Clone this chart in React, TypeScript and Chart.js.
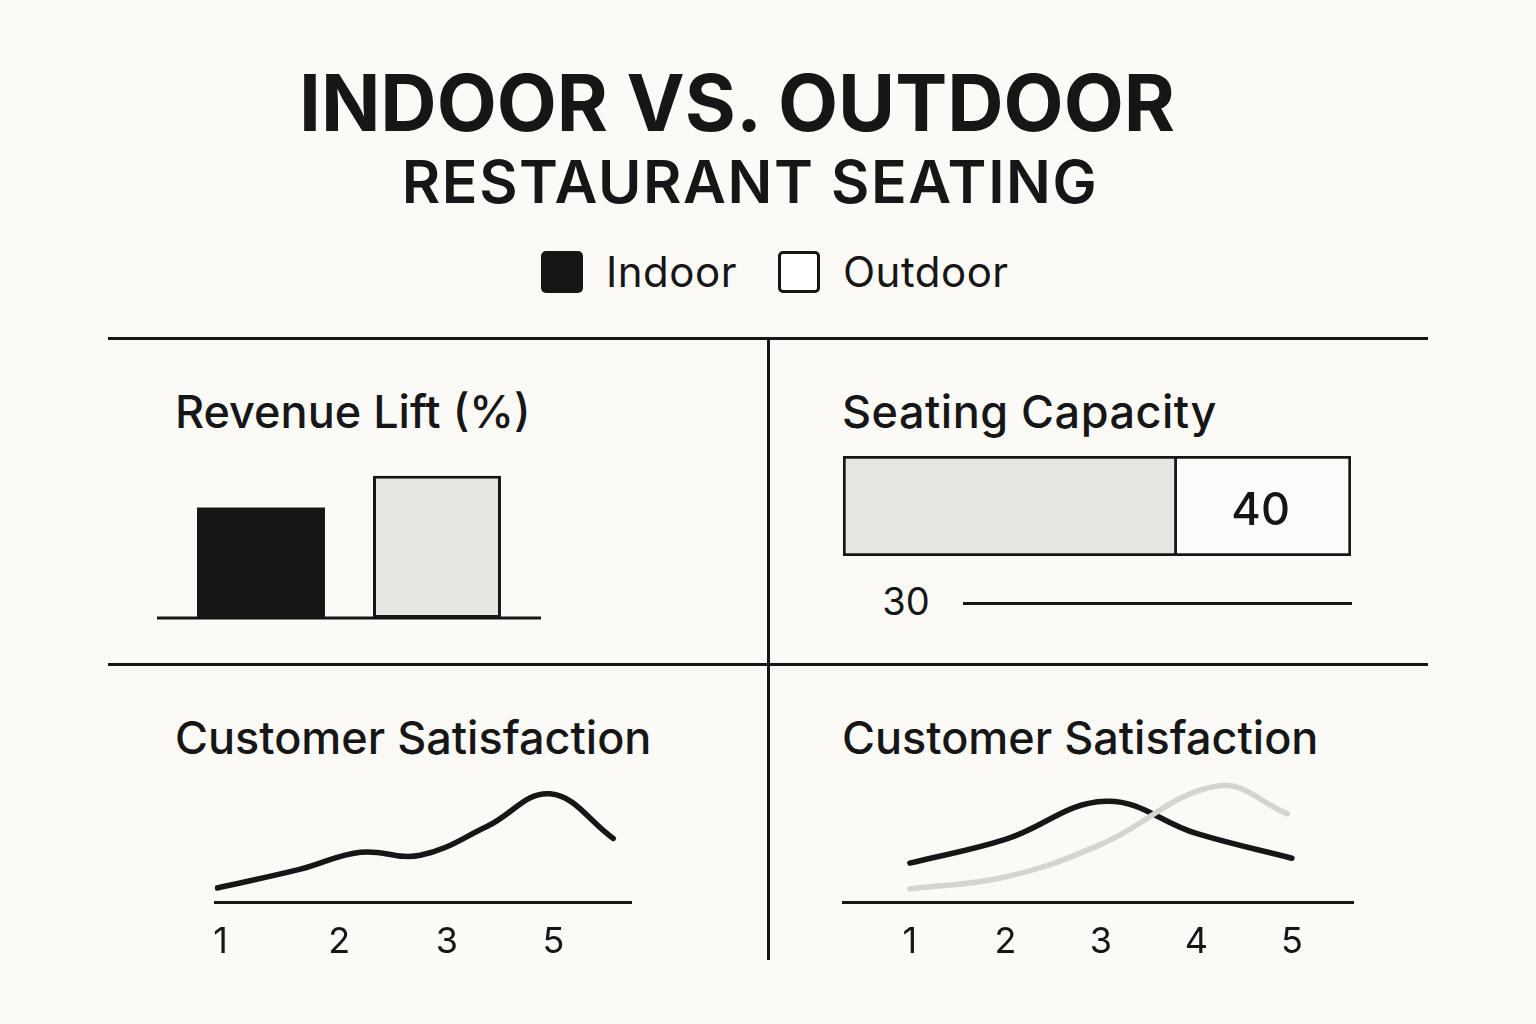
import React, { useEffect, useRef } from 'react';
import { Chart, registerables } from 'chart.js';

Chart.register(...registerables);

const INK = '#161616';
const PAPER = '#fcfaf6';
const LIGHT_FILL = '#e7e5e1';
const LIGHT_LINE = '#d6d4d0';
const FONT = 'Inter, "Noto Sans", sans-serif';

// ---- data ----
const SERIES = ['Indoor', 'Outdoor'];
const REVENUE_LIFT = [21, 27];

const SEATING_SEGMENT_NAMES = ['Outdoor', 'Indoor'];
const SEATING_SEGMENTS = [75, 40];
const SEATING_SEGMENT_LABELS = ['', '40'];
const SEATING_BASE_LABEL = ['30'];

const SAT_LEFT_TICKS = [0, 1.07, 2.04, 3.0];
const SAT_LEFT_TICK_LABELS = ['1', '2', '3', '5'];
const SAT_LEFT_X = [-0.03, 0.72, 1.26, 1.8, 2.4, 2.97, 3.54];
const SAT_LEFT_Y = [0.6, 1.36, 2.04, 1.92, 3.08, 4.4, 2.6];

const SAT_RIGHT_TICKS = [1, 2, 3, 4, 5];
const SAT_RIGHT_TICK_LABELS = ['1', '2', '3', '4', '5'];
const SAT_RIGHT_INDOOR_X = [1, 2, 3.05, 4, 5];
const SAT_RIGHT_INDOOR_Y = [1.6, 2.56, 4.1, 2.8, 1.8];
const SAT_RIGHT_OUTDOOR_X = [1, 2, 3, 4.22, 4.95];
const SAT_RIGHT_OUTDOOR_Y = [0.56, 1.04, 2.36, 4.72, 3.6];

// ---- helpers ----
function useChart(make: () => any) {
  const ref = useRef<HTMLCanvasElement | null>(null);
  useEffect(() => {
    if (!ref.current) return;
    const chart = new Chart(ref.current, make());
    return () => chart.destroy();
  }, []);
  return ref;
}

const baselinePlugin = {
  id: 'baseline',
  afterDatasetsDraw(chart: any) {
    const y = chart.scales.y.getPixelForValue(0);
    const ctx = chart.ctx;
    ctx.save();
    ctx.strokeStyle = INK;
    ctx.lineWidth = 3;
    ctx.beginPath();
    ctx.moveTo(0, y);
    ctx.lineTo(chart.width, y);
    ctx.stroke();
    ctx.restore();
  },
};

const segmentLabelPlugin = {
  id: 'segLabel',
  afterDatasetsDraw(chart: any) {
    const ctx = chart.ctx;
    chart.data.datasets.forEach((ds: any, i: number) => {
      const label = SEATING_SEGMENT_LABELS[i];
      if (!label) return;
      const el = chart.getDatasetMeta(i).data[0];
      ctx.save();
      ctx.fillStyle = INK;
      ctx.font = `500 45px ${FONT}`;
      ctx.textAlign = 'center';
      ctx.textBaseline = 'middle';
      ctx.fillText(label, (el.x + el.base) / 2 - 2, el.y + 5);
      ctx.restore();
    });
  },
};

function RevenueChart() {
  const ref = useChart(() => ({
    type: 'bar',
    data: {
      labels: SERIES,
      datasets: [
        {
          label: 'Revenue Lift (%)',
          data: REVENUE_LIFT,
          backgroundColor: [INK, LIGHT_FILL],
          borderColor: [INK, INK],
          borderWidth: [0, 3],
          borderSkipped: false,
          categoryPercentage: 1,
          barPercentage: 0.727,
        },
      ],
    },
    options: {
      responsive: false,
      animation: false,
      layout: { padding: { left: 16, right: 16, top: 0, bottom: 2 } },
      plugins: { legend: { display: false }, tooltip: { enabled: false } },
      scales: {
        x: { display: false },
        y: { display: false, min: 0, max: 30 },
      },
    },
    plugins: [baselinePlugin],
  }));
  return <canvas ref={ref} width={384} height={160} style={{ position: 'absolute', left: 157, top: 460 }} />;
}

function SeatingChart() {
  const ref = useChart(() => ({
    type: 'bar',
    data: {
      labels: ['Seating Capacity'],
      datasets: [
        {
          label: SEATING_SEGMENT_NAMES[0],
          data: [SEATING_SEGMENTS[0]],
          backgroundColor: LIGHT_FILL,
          borderColor: INK,
          borderWidth: { left: 3, top: 3, bottom: 3, right: 0 },
          borderSkipped: false,
          categoryPercentage: 1,
          barPercentage: 1,
        },
        {
          label: SEATING_SEGMENT_NAMES[1],
          data: [SEATING_SEGMENTS[1]],
          backgroundColor: '#fdfcfa',
          borderColor: INK,
          borderWidth: 3,
          borderSkipped: false,
          categoryPercentage: 1,
          barPercentage: 1,
        },
      ],
    },
    options: {
      indexAxis: 'y',
      responsive: false,
      animation: false,
      layout: { padding: 0 },
      plugins: { legend: { display: false }, tooltip: { enabled: false } },
      scales: {
        x: { display: false, stacked: true, min: 0, max: SEATING_SEGMENTS[0] + SEATING_SEGMENTS[1] },
        y: { display: false, stacked: true },
      },
    },
    plugins: [segmentLabelPlugin],
  }));
  return <canvas ref={ref} width={508} height={100} style={{ position: 'absolute', left: 843, top: 456 }} />;
}

function lineConfig(datasets: any[], ticks: number[], tickLabels: string[], xmin: number, xmax: number) {
  return {
    type: 'line',
    data: { datasets },
    options: {
      responsive: false,
      animation: false,
      layout: { padding: { left: 40, right: 30, top: 16, bottom: 0 } },
      plugins: { legend: { display: false }, tooltip: { enabled: false } },
      elements: { point: { radius: 0 } },
      scales: {
        x: {
          type: 'linear',
          min: xmin,
          max: xmax,
          grid: { display: false, drawTicks: false },
          border: { display: true, color: INK, width: 3 },
          afterBuildTicks: (scale: any) => {
            scale.ticks = ticks.map((v) => ({ value: v }));
          },
          ticks: {
            color: INK,
            padding: 18,
            autoSkip: false,
            maxRotation: 0,
            font: { family: FONT, size: 36, weight: 400 },
            callback: (_v: any, i: number) => tickLabels[i],
          },
        },
        y: { display: false, min: 0, max: 5 },
      },
    },
  };
}

function lineDataset(label: string, xs: number[], ys: number[], color: string) {
  return {
    label,
    data: xs.map((x, i) => ({ x, y: ys[i] })),
    borderColor: color,
    borderWidth: 5.5,
    borderCapStyle: 'round',
    borderJoinStyle: 'round',
    tension: 0.4,
    fill: false,
  };
}

function SatLeftChart() {
  const ref = useChart(() =>
    lineConfig(
      [lineDataset('Customer Satisfaction', SAT_LEFT_X, SAT_LEFT_Y, INK)],
      SAT_LEFT_TICKS,
      SAT_LEFT_TICK_LABELS,
      -0.05,
      3.7
    )
  );
  return <canvas ref={ref} width={486} height={219} style={{ position: 'absolute', left: 175, top: 763 }} />;
}

function SatRightChart() {
  const ref = useChart(() =>
    lineConfig(
      [
        lineDataset('Outdoor', SAT_RIGHT_OUTDOOR_X, SAT_RIGHT_OUTDOOR_Y, LIGHT_LINE),
        lineDataset('Indoor', SAT_RIGHT_INDOOR_X, SAT_RIGHT_INDOOR_Y, INK),
      ],
      SAT_RIGHT_TICKS,
      SAT_RIGHT_TICK_LABELS,
      0.3,
      5.64
    )
  );
  return <canvas ref={ref} width={580} height={219} style={{ position: 'absolute', left: 803, top: 763 }} />;
}

function Text(props: { x: number; y: number; size: number; weight?: number; center?: boolean; spacing?: number; children: any }) {
  const { x, y, size, weight = 500, center, spacing = 0, children } = props;
  return (
    <div
      style={{
        position: 'absolute',
        left: x,
        top: y,
        fontSize: size,
        lineHeight: `${size}px`,
        fontWeight: weight,
        letterSpacing: spacing,
        fontFamily: FONT,
        color: INK,
        whiteSpace: 'nowrap',
        transform: center ? 'translateX(-50%)' : undefined,
      }}
    >
      {children}
    </div>
  );
}

function Rule(props: { x: number; y: number; w: number; h: number }) {
  return <div style={{ position: 'absolute', left: props.x, top: props.y, width: props.w, height: props.h, background: INK }} />;
}

export default function App() {
  return (
    <div style={{ position: 'fixed', left: 0, top: 0, width: 1536, height: 1024, background: PAPER, overflow: 'hidden' }}>
      <Text x={737} y={64} size={78} weight={700} center>
        INDOOR VS. OUTDOOR
      </Text>
      <Text x={750} y={152} size={59} weight={600} center spacing={1.6}>
        RESTAURANT SEATING
      </Text>

      {/* legend */}
      <div style={{ position: 'absolute', left: 541, top: 251, width: 42, height: 42, background: INK, borderRadius: 5 }} />
      <Text x={606} y={251} size={42} weight={400} spacing={0.5}>
        {SERIES[0]}
      </Text>
      <div
        style={{
          position: 'absolute',
          left: 778,
          top: 251,
          width: 42,
          height: 42,
          boxSizing: 'border-box',
          border: `3px solid ${INK}`,
          background: '#ffffff',
          borderRadius: 5,
        }}
      />
      <Text x={843} y={251} size={42} weight={400} spacing={0.5}>
        {SERIES[1]}
      </Text>

      {/* grid rules */}
      <Rule x={108} y={337} w={1320} h={3} />
      <Rule x={108} y={663} w={1320} h={3} />
      <Rule x={767} y={338} w={3} h={622} />

      {/* panel titles */}
      <Text x={175} y={389} size={45}>Revenue Lift (%)</Text>
      <Text x={842} y={389} size={45} spacing={0.5}>Seating Capacity</Text>
      <Text x={175} y={715} size={45}>Customer Satisfaction</Text>
      <Text x={842} y={715} size={45}>Customer Satisfaction</Text>

      <RevenueChart />
      <SeatingChart />
      <Text x={906} y={582} size={38} weight={400} center>
        {SEATING_BASE_LABEL[0]}
      </Text>
      <Rule x={963} y={602} w={389} h={3} />

      <SatLeftChart />
      <SatRightChart />
    </div>
  );
}
